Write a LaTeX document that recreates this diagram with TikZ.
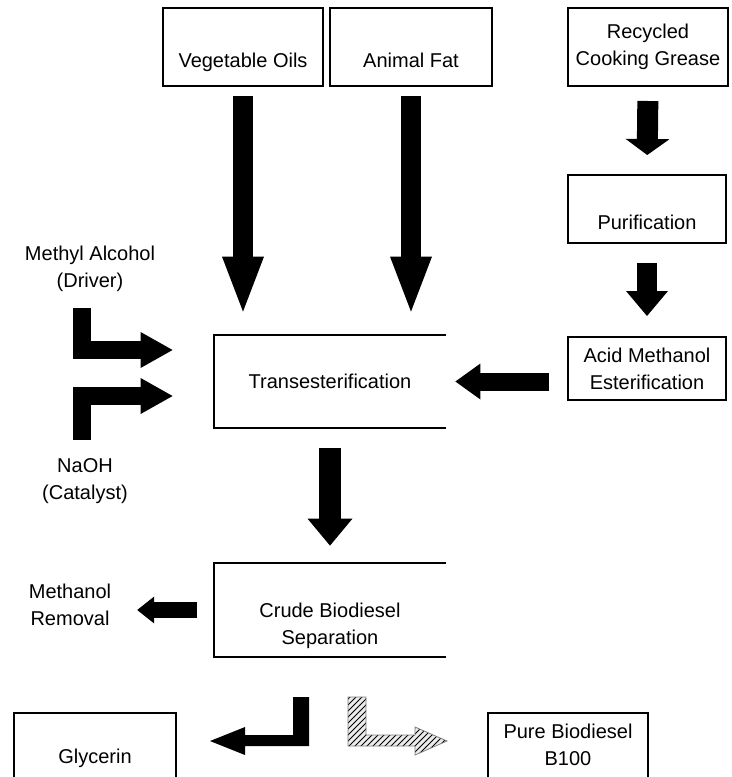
\documentclass[tikz,border=0pt]{standalone}
\usepackage{fontspec}
\setmainfont{Liberation Sans}
\usetikzlibrary{positioning}
\usetikzlibrary{arrows.meta}
\usetikzlibrary{patterns}

\tikzset{
  box/.style={draw, line width=1pt, inner sep=0pt, align=center},
  openbox/.style={inner sep=0pt, align=center},
  drop/.style={text height=#1, text depth=2pt},
  lbl/.style={align=center},
  blk/.style n args={3}{line width=#1, -{Triangle[length=#2, width=#3, line width=0pt]}},
}

\begin{document}
\begin{tikzpicture}[x=0.5pt, y=-0.5pt, font=\fontsize{10}{13.5}\selectfont]
  \useasboundingbox (0,0) rectangle (732,777);

  % feedstocks
  \node[box, minimum width=80pt, minimum height=39pt, drop=22pt] (veg) at (243,47) {Vegetable Oils};
  \node[box, minimum width=81pt, minimum height=39pt, drop=22pt] (fat) at (411,47) {Animal Fat};
  \node[box, minimum width=80pt, minimum height=39pt] (grease) at (648,47) {Recycled\\Cooking Grease};
  \node[box, minimum width=79pt, minimum height=34pt, drop=22pt] (purif) at (647,209) {Purification};
  \node[box, minimum width=79pt, minimum height=31.5pt] (acid) at (647,368.5) {Acid Methanol\\Esterification};

  % process
  \node[openbox, minimum width=116pt, minimum height=46.5pt] (trans) at (330,381.5) {Transesterification};
  \node[openbox, minimum width=116pt, minimum height=47pt, drop=36pt] (crude) at (330,610) {Crude Biodiesel\\Separation};
  \draw[line width=1pt] (trans.north east) -- (trans.north west) -- (trans.south west) -- (trans.south east);
  \draw[line width=1pt] (crude.north east) -- (crude.north west) -- (crude.south west) -- (crude.south east);

  % products
  \node[openbox, minimum width=81pt, minimum height=32pt, drop=20pt] (glyc) at (95,745) {Glycerin};
  \node[openbox, minimum width=80pt, minimum height=32pt] (pure) at (568,745) {Pure Biodiesel\\B100};
  \draw[line width=1pt] (glyc.south west) -- (glyc.north west) -- (glyc.north east) -- (glyc.south east);
  \draw[line width=1pt] (pure.south west) -- (pure.north west) -- (pure.north east) -- (pure.south east);

  % side inputs and outputs
  \node[lbl] (methyl) at (90,268.5) {Methyl Alcohol\\(Driver)};
  \node[lbl] (naoh) at (85,481.5) {NaOH\\(Catalyst)};
  \node[lbl] (meth) at (70,605) {Methanol\\Removal};
  \coordinate (methin) at (82,308);
  \coordinate (naohin) at (82,440);

  % block arrows
  \draw[blk={10pt}{27.5pt}{21pt}, shorten <=4.5pt, shorten >=11.5pt] (veg.south) -- (veg.south |- trans.north);
  \draw[blk={10pt}{27.5pt}{21pt}, shorten <=4.5pt, shorten >=11.5pt] (fat.south) -- (fat.south |- trans.north);
  \draw[blk={10.5pt}{8pt}{22pt}, shorten <=7pt, shorten >=9.5pt] (grease.south) -- (purif.north);
  \draw[blk={10pt}{12.5pt}{21pt}, shorten <=9.5pt, shorten >=10pt] (purif.south) -- (acid.north);
  \draw[blk={9pt}{12.5pt}{18pt}, shorten <=9pt, shorten >=4.5pt] (acid.west |- trans.east) -- (trans.east);
  \draw[blk={11pt}{13.5pt}{22.5pt}, shorten <=10pt, shorten >=8.5pt] (trans.south) -- (crude.north);
  \draw[blk={8pt}{8.5pt}{13.5pt}, shorten <=8.5pt, shorten >=9.5pt] (crude.west) -- (crude.west -| meth.east);
  \draw[blk={9pt}{16pt}{18pt}, shorten >=20.5pt] (methin) |- ([yshift=15.75pt]trans.west);
  \draw[blk={9pt}{16pt}{18pt}, shorten >=20.5pt] (naohin) |- ([yshift=-7.25pt]trans.west);

  % split below separation
  \fill (293,697) -- (309,697) -- (309,746) -- (245,746) -- (245,755) -- (210,741)
    -- (245,727) -- (245,735) -- (293,735) -- cycle;
  \draw[gray, pattern=north east lines, preaction={fill=gray!15}] (348,697) -- (366,697)
    -- (366,735) -- (415,735) -- (415,727) -- (447,741) -- (415,755) -- (415,746)
    -- (348,746) -- cycle;
\end{tikzpicture}
\end{document}
